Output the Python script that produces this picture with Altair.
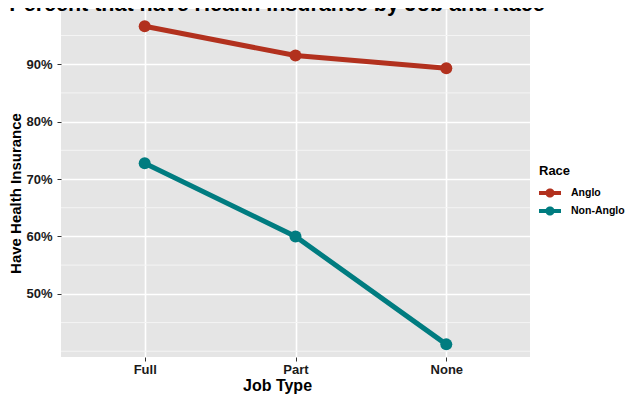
import altair as alt
import pandas as pd

job_types = ["Full", "Part", "None"]
races = ["Anglo", "Non-Anglo"]
anglo = [0.966, 0.915, 0.893]
non_anglo = [0.7275, 0.600, 0.412]
y_major = [0.5, 0.6, 0.7, 0.8, 0.9]
y_minor = [0.4, 0.45, 0.55, 0.65, 0.75, 0.85, 0.95]
title_text = "Percent that have Health Insurance by Job and Race"
colors = ["#B2311E", "#007C80"]

rows = []
for j, a, n in zip(job_types, anglo, non_anglo):
    rows.append({"job": j, "race": races[0], "pct": a})
    rows.append({"job": j, "race": races[1], "pct": n})
df = pd.DataFrame(rows)
minor_df = pd.DataFrame({"pct": y_minor})
title_df = pd.DataFrame({"t": [title_text]})

FONT = "Liberation Sans"

y_scale = alt.Scale(domain=[0.39, 0.9961], nice=False, zero=False)
y_axis = alt.Axis(
    title="Have Health Insurance", format=".0%", values=y_major,
    labelFont=FONT, labelFontSize=13, labelFontWeight="bold", labelColor="#1a1a1a",
    tickColor="#333333", tickSize=4, tickWidth=1, labelPadding=5, domain=False,
    grid=True, gridColor="white", gridWidth=1.6,
    titleFont=FONT, titleFontSize=15, titleFontWeight="bold", titleColor="#000000",
    titleAngle=270, titleX=-46, titleY=184, titleAlign="center", titleBaseline="middle",
)
x_scale = alt.Scale(type="point", padding=0.555)
x_axis = alt.Axis(
    title="Job Type", labelAngle=0,
    labelFont=FONT, labelFontSize=13, labelFontWeight="bold", labelColor="#1a1a1a",
    tickColor="#333333", tickSize=4, tickWidth=1, labelPadding=2, domain=False,
    grid=True, gridColor="white", gridWidth=1.6,
    titleFont=FONT, titleFontSize=16, titleFontWeight="bold", titleColor="#000000",
    titleX=216, titleY=28, titleAlign="center", titleBaseline="middle",
)

minor = alt.Chart(minor_df).mark_rule(color="#F4F4F4", strokeWidth=1).encode(
    y=alt.Y("pct:Q", scale=y_scale, axis=y_axis)
)

color_scale = alt.Scale(domain=races, range=colors)
sym = ("M-1,-0.19 L1,-0.19 L1,0.19 L-1,0.19 Z "
       "M-0.42,0 A0.42,0.42 0 1,1 0.42,0 A0.42,0.42 0 1,1 -0.42,0 Z")

lines = alt.Chart(df).mark_line(strokeWidth=5).encode(
    x=alt.X("job:N", sort=job_types, scale=x_scale, axis=x_axis),
    y=alt.Y("pct:Q", scale=y_scale, axis=y_axis),
    color=alt.Color("race:N", scale=color_scale, legend=None),
)
points = alt.Chart(df).mark_point(filled=True, size=144, opacity=1).encode(
    x=alt.X("job:N", sort=job_types, scale=x_scale, axis=x_axis),
    y=alt.Y("pct:Q", scale=y_scale, axis=y_axis),
    color=alt.Color("race:N", scale=color_scale, legend=alt.Legend(
        title="Race", orient="none", legendX=478, legendY=156,
        symbolType=sym, symbolSize=484, symbolStrokeWidth=0, symbolOpacity=1,
        titleFont=FONT, titleFontSize=13, titleFontWeight="bold", titleColor="#000000",
        titlePadding=4, labelFont=FONT, labelFontSize=10.5, labelFontWeight="bold",
        labelColor="#000000", labelOffset=10, rowPadding=1,
    )),
)
title = alt.Chart(title_df).mark_text(
    font=FONT, fontSize=21.5, fontWeight="bold", color="#000000",
    align="center", baseline="alphabetic",
).encode(text="t:N", x=alt.value(216), y=alt.value(2))

chart = alt.layer(minor, lines, points, title).resolve_legend(
    color="independent"
).properties(
    width=469, height=348,
    autosize=alt.AutoSizeParams(type="none"),
    padding={"left": 53, "top": 1, "right": 97, "bottom": 39},
    background="white",
).configure_view(fill="#E5E5E5", stroke=None)

chart.save("out.html", embed_options={"renderer": "svg", "actions": False})
